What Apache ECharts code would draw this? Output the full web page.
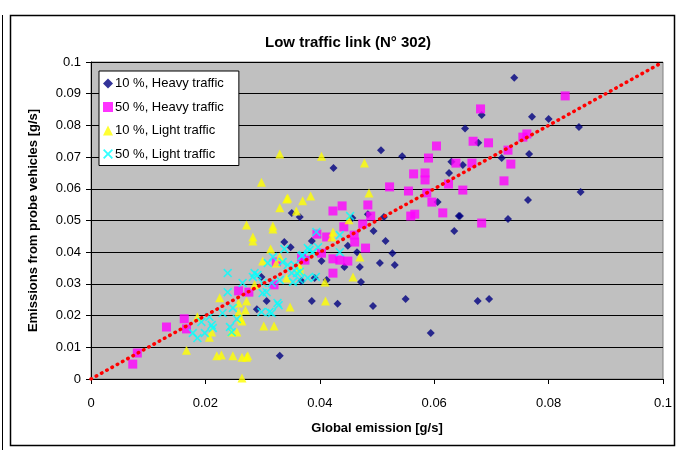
<!DOCTYPE html>
<html><head><meta charset="utf-8">
<script src="https://cdn.jsdelivr.net/npm/echarts@6/dist/echarts.min.js"></script>
<style>html,body{margin:0;padding:0;background:#fff}#c{width:682px;height:450px}</style>
</head><body><div id="c"></div>
<script>
const titleText = "Low traffic link (N° 302)";
const xAxisTitle = "Global emission [g/s]";
const yAxisTitle = "Emissions from probe vehicles [g/s]";
const seriesNames = ["10 %, Heavy traffic", "50 %, Heavy traffic", "10 %, Light traffic", "50 %, Light traffic"];

const heavy10 = [
[0.074,0.095],[0.0654,0.079],[0.0683,0.0833],[0.0771,0.0827],[0.080,0.082],[0.0853,0.0795],
[0.0677,0.0745],[0.0718,0.0697],[0.0766,0.071],[0.065,0.0675],[0.0856,0.059],[0.0764,0.0565],
[0.0645,0.0514],[0.0729,0.0505],[0.0676,0.0246],[0.0696,0.0252],[0.0507,0.0722],[0.0544,0.0703],
[0.0424,0.0666],[0.063,0.0685],[0.0626,0.065],[0.0606,0.0558],[0.0643,0.0514],[0.0635,0.0467],
[0.0512,0.0511],[0.0484,0.052],[0.0494,0.0467],[0.0515,0.0435],[0.0527,0.0397],[0.0449,0.042],
[0.0351,0.0524],[0.0365,0.0511],[0.0338,0.0432],[0.0349,0.0416],[0.0386,0.0435],[0.0457,0.0508],
[0.0465,0.040],[0.0403,0.0372],[0.0443,0.0353],[0.047,0.0353],[0.0505,0.0366],[0.0531,0.036],
[0.0368,0.0309],[0.0472,0.0306],[0.0391,0.0319],[0.0412,0.0312],[0.0386,0.0246],[0.0431,0.0237],
[0.0493,0.023],[0.055,0.0252],[0.0594,0.0145],[0.033,0.0073],[0.0298,0.0322],[0.0307,0.0246],
[0.029,0.022]
];
const heavy50 = [
[0.0829,0.0893],[0.0681,0.0852],[0.0668,0.075],[0.0695,0.0745],[0.0755,0.0763],[0.0762,0.0773],
[0.0729,0.0722],[0.0666,0.0681],[0.0734,0.0678],[0.0722,0.0625],[0.065,0.0596],[0.0683,0.0492],
[0.0604,0.0735],[0.059,0.0697],[0.0638,0.0681],[0.0564,0.0647],[0.0584,0.065],[0.0584,0.0628],
[0.0522,0.0606],[0.0555,0.0593],[0.0625,0.0615],[0.0587,0.0587],[0.0596,0.0558],[0.0615,0.0524],
[0.0566,0.052],[0.0559,0.0514],[0.0484,0.0549],[0.0439,0.0546],[0.0423,0.053],[0.0489,0.0514],
[0.0475,0.0489],[0.0442,0.048],[0.046,0.0454],[0.0461,0.0432],[0.0412,0.0448],[0.0395,0.0457],
[0.048,0.0413],[0.0403,0.0397],[0.0423,0.0379],[0.0435,0.0375],[0.0449,0.0372],[0.0423,0.0334],
[0.0368,0.0382],[0.0374,0.0375],[0.0324,0.0369],[0.0258,0.0278],[0.0276,0.0274],[0.032,0.0297],
[0.0163,0.019],[0.0132,0.0164],[0.0167,0.0158],[0.0081,0.0082],[0.0073,0.0047]
];
const light10 = [
[0.033,0.071],[0.0403,0.0703],[0.0478,0.0681],[0.0486,0.0587],[0.0342,0.0568],[0.0344,0.0571],
[0.037,0.0562],[0.0384,0.0577],[0.033,0.054],[0.0359,0.053],[0.0318,0.0483],[0.0318,0.0473],
[0.0423,0.0464],[0.0451,0.0502],[0.0421,0.0448],[0.0298,0.0621],[0.0272,0.0486],[0.0283,0.0448],
[0.0283,0.0435],[0.0314,0.041],[0.030,0.0372],[0.0324,0.0366],[0.0342,0.0319],[0.0365,0.0353],
[0.0225,0.0256],[0.0258,0.024],[0.0272,0.0246],[0.027,0.0218],[0.0258,0.0211],[0.0262,0.0189],
[0.0348,0.0227],[0.0302,0.0167],[0.032,0.0167],[0.0211,0.0148],[0.0207,0.0132],[0.0246,0.0148],
[0.0255,0.0148],[0.0186,0.0196],[0.0264,0.0183],[0.0167,0.0091],[0.022,0.0073],[0.0228,0.0076],
[0.0248,0.0073],[0.0264,0.0069],[0.0272,0.0069],[0.0274,0.0073],[0.0264,0.0003],[0.033,0.0385],
[0.047,0.0385],[0.0458,0.0322],[0.0409,0.0306],[0.041,0.0246],[0.0365,0.0344],[0.0286,0.0297]
];
const light50 = [
[0.0453,0.0514],[0.0394,0.0464],[0.0435,0.0454],[0.0338,0.041],[0.0379,0.0413],[0.0397,0.0416],
[0.0388,0.040],[0.0435,0.040],[0.0368,0.0388],[0.037,0.0391],[0.0382,0.0407],[0.0344,0.036],
[0.0356,0.036],[0.0351,0.0334],[0.0365,0.0338],[0.033,0.0312],[0.0353,0.0306],[0.0316,0.0303],
[0.0379,0.0319],[0.0393,0.0322],[0.0328,0.0233],[0.0316,0.0208],[0.0239,0.0334],[0.0239,0.0274],
[0.0265,0.0303],[0.0286,0.0334],[0.0291,0.0328],[0.0283,0.0322],[0.030,0.0303],[0.0307,0.0274],
[0.0309,0.0366],[0.0318,0.0385],[0.0335,0.0369],[0.0298,0.0211],[0.0312,0.0211],[0.0248,0.0224],
[0.0255,0.0189],[0.0243,0.0164],[0.0246,0.0148],[0.0211,0.017],[0.0207,0.0196],[0.0213,0.0161],
[0.0193,0.018],[0.0199,0.0145],[0.036,0.0334],[0.0365,0.0312],[0.023,0.0208],[0.0178,0.0145],
[0.0186,0.0129],[0.0326,0.024],[0.030,0.0271]
];
const refLine = [[0,0],[0.1,0.1]];

const xMin = 0, xMax = 0.1, xStep = 0.02;
const yMin = 0, yMax = 0.1, yStep = 0.01;

const xShape = 'path://M0,1.3L1.3,0L5,3.7L8.7,0L10,1.3L6.3,5L10,8.7L8.7,10L5,6.3L1.3,10L0,8.7L3.7,5Z';
const fmt = v => String(+v.toFixed(4));
const font = 'Arial, "Liberation Sans", sans-serif';

const chart = echarts.init(document.getElementById('c'), null, {renderer:'canvas'});
chart.setOption({
  animation:false,
  backgroundColor:'#ffffff',
  title:{text:titleText, left:343, top:30, textAlign:'center',
    textStyle:{fontFamily:font, fontSize:15, fontWeight:'bold', color:'#000'}},
  grid:{left:91, top:62, width:572, height:317, show:true, backgroundColor:'#c0c0c0', borderColor:'#808080', borderWidth:1},
  legend:{orient:'vertical', left:99, top:71, padding:[6,15,5,4], itemGap:10.5, itemWidth:10, itemHeight:10,
    backgroundColor:'#ffffff', borderColor:'#000', borderWidth:1,
    textStyle:{fontFamily:font, fontSize:13, color:'#000', padding:[0,0,0,-3]},
    data:seriesNames},
  xAxis:{type:'value', min:xMin, max:xMax, interval:xStep,
    name:xAxisTitle, nameLocation:'middle', nameGap:43,
    nameTextStyle:{fontFamily:font, fontSize:13, fontWeight:'bold', color:'#000'},
    axisLine:{show:true, onZero:false, lineStyle:{color:'#000', width:1}},
    axisTick:{show:true, length:5, lineStyle:{color:'#000'}},
    axisLabel:{fontFamily:font, fontSize:13, color:'#000', margin:18, formatter:fmt},
    splitLine:{show:false}},
  yAxis:{type:'value', min:yMin, max:yMax, interval:yStep,
    name:yAxisTitle, nameLocation:'middle', nameGap:51, nameRotate:90,
    nameTextStyle:{fontFamily:font, fontSize:13, fontWeight:'bold', color:'#000'},
    axisLine:{show:true, onZero:false, lineStyle:{color:'#000', width:1}},
    axisTick:{show:true, length:5, lineStyle:{color:'#000'}},
    axisLabel:{fontFamily:font, fontSize:13, color:'#000', margin:10, formatter:fmt},
    splitLine:{show:true, lineStyle:{color:'#000', width:1}}},
  graphic:[
    {type:'rect', shape:{x:10.5, y:15.5, width:664, height:430}, style:{fill:'none', stroke:'#000', lineWidth:1.5}, silent:true, z:-1},
    {type:'line', shape:{x1:2.5, y1:15, x2:2.5, y2:450}, style:{stroke:'#000', lineWidth:1}, silent:true}
  ],
  series:[
    {name:seriesNames[0], type:'scatter', data:heavy10, symbol:'diamond', symbolSize:8, itemStyle:{color:'#000080'}, z:2},
    {name:seriesNames[1], type:'scatter', data:heavy50, symbol:'rect', symbolSize:9, itemStyle:{color:'#ff00ff'}, z:3},
    {name:seriesNames[2], type:'scatter', data:light10, symbol:'triangle', symbolSize:9, itemStyle:{color:'#ffff00'}, z:4},
    {name:seriesNames[3], type:'scatter', data:light50, symbol:xShape, symbolSize:9, itemStyle:{color:'#00ffff'}, z:5},
    {type:'line', data:refLine, showSymbol:false, symbol:'none', z:6, silent:true,
      lineStyle:{color:'#ff0000', width:3.5, type:[0.5,5.5], cap:'round'}}
  ]
});
</script></body></html>
